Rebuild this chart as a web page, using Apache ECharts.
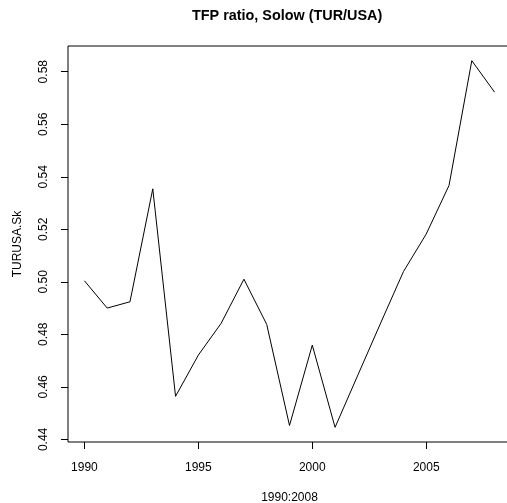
<!DOCTYPE html>
<html>
<head>
<meta charset="utf-8">
<title>TFP ratio, Solow (TUR/USA)</title>
<script src="https://cdn.jsdelivr.net/npm/echarts@6/dist/echarts.min.js"></script>
<style>
  html, body { margin: 0; padding: 0; background: #fff; }
  #chart { width: 507px; height: 503px; }
</style>
</head>
<body>
<div id="chart"></div>
<script>
// data
const years = [1990, 1991, 1992, 1993, 1994, 1995, 1996, 1997, 1998, 1999,
               2000, 2001, 2002, 2003, 2004, 2005, 2006, 2007, 2008];
const turusaSk = [0.5004, 0.4900, 0.4924, 0.5354, 0.4564, 0.4721, 0.4842, 0.5010, 0.4838, 0.4453,
                  0.4759, 0.4446, 0.4645, 0.4843, 0.5039, 0.5182, 0.5367, 0.5842, 0.5722];
const xTicks = [1990, 1995, 2000, 2005];
const yTicks = [0.44, 0.46, 0.48, 0.50, 0.52, 0.54, 0.56, 0.58];

// R style axis range: data range stretched by 4% each side
const xPad = (years[years.length - 1] - years[0]) * 0.04;
const yMin = Math.min(...turusaSk), yMax = Math.max(...turusaSk);
const yPad = (yMax - yMin) * 0.04;

const chart = echarts.init(document.getElementById('chart'));
const font = 'Liberation Sans, Arial, Helvetica, sans-serif';

chart.setOption({
  animation: false,
  backgroundColor: '#fff',
  title: {
    text: 'TFP ratio, Solow (TUR/USA)',
    left: 192,
    top: 9,
    padding: 0,
    textStyle: { fontFamily: font, fontSize: 14.4, fontWeight: 'bold', color: '#000' }
  },
  grid: {
    left: 68,
    top: 46,
    width: 443,   // box runs past the right edge, as in the reference
    bottom: 61,
    outerBoundsMode: 'none',
    show: true,
    borderColor: '#000',
    borderWidth: 1,
    backgroundColor: 'transparent'
  },
  xAxis: {
    type: 'value',
    min: years[0] - xPad,
    max: years[years.length - 1] + xPad,
    name: '1990:2008',
    nameLocation: 'middle',
    nameGap: 50,
    nameTextStyle: { fontFamily: font, fontSize: 12, color: '#000' },
    axisLine: { show: false },
    splitLine: { show: false },
    axisTick: { show: true, inside: false, length: 7, customValues: xTicks, lineStyle: { color: '#000', width: 1 } },
    axisLabel: {
      customValues: xTicks,
      margin: 20,
      fontFamily: font, fontSize: 12, color: '#000',
      formatter: v => String(v)
    }
  },
  yAxis: {
    type: 'value',
    min: yMin - yPad,
    max: yMax + yPad,
    name: 'TURUSA.Sk',
    nameLocation: 'middle',
    nameRotate: 90,
    nameGap: 44,
    nameTextStyle: { fontFamily: font, fontSize: 12, color: '#000' },
    axisLine: { show: false },
    splitLine: { show: false },
    axisTick: { show: true, inside: false, length: 7, customValues: yTicks, lineStyle: { color: '#000', width: 1 } },
    axisLabel: {
      customValues: yTicks,
      rotate: 90,
      margin: 18,
      fontFamily: font, fontSize: 12, color: '#000',
      formatter: v => v.toFixed(2)
    }
  },
  series: [{
    type: 'line',
    data: years.map((y, i) => [y, turusaSk[i]]),
    symbol: 'none',
    lineStyle: { color: '#000', width: 1 }
  }]
});
</script>
</body>
</html>
